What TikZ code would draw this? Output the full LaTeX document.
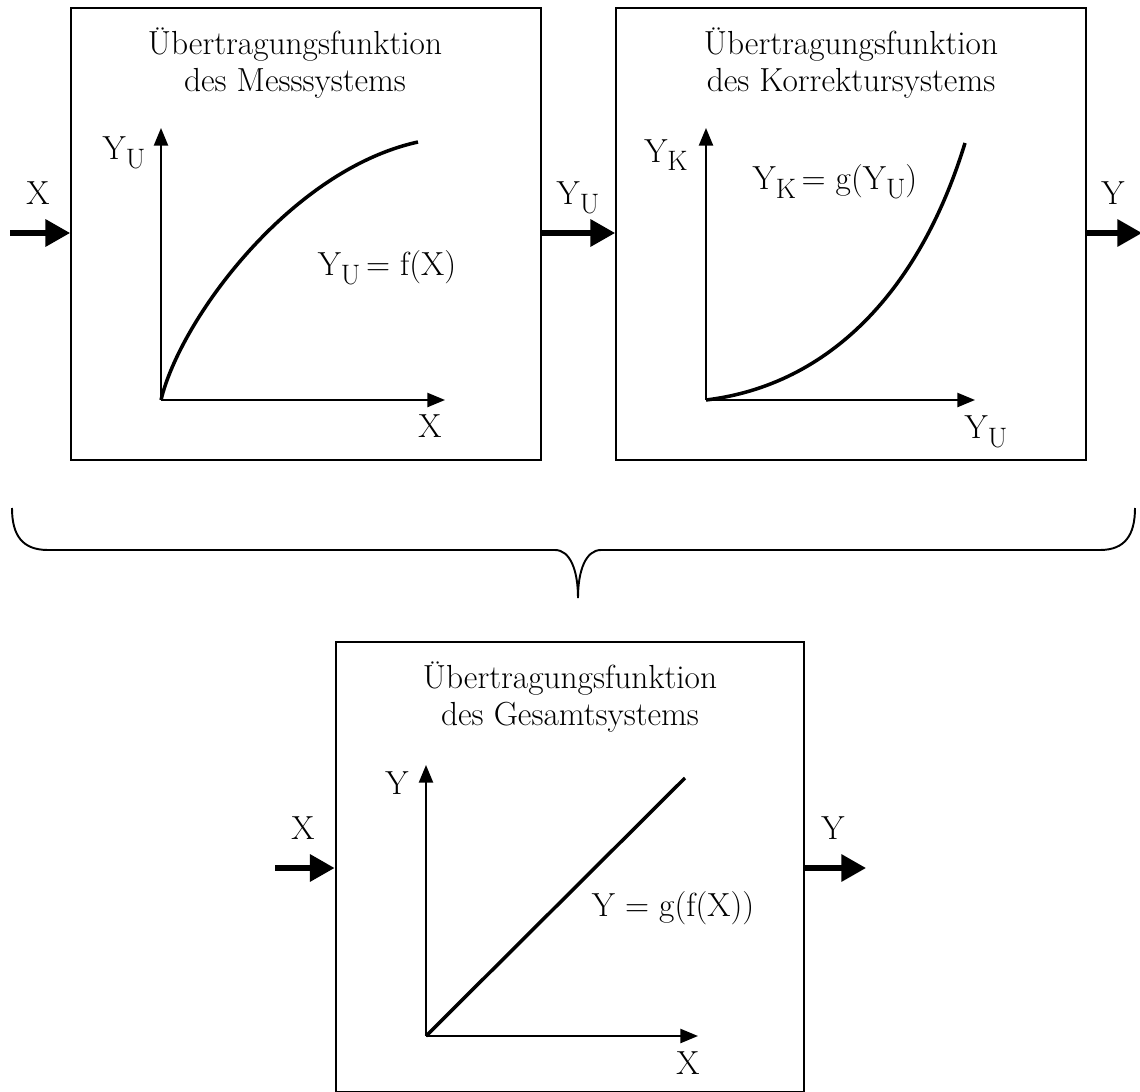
\documentclass[tikz,border=0pt]{standalone}
\usetikzlibrary{arrows.meta,positioning}
\newcommand{\idx}[1]{\raisebox{-0.6ex}{\fontsize{16}{16}\selectfont#1}}
\tikzset{
  sysbox/.style={draw, line width=1.1pt, inner sep=0pt,
                 minimum width=9.4cm, minimum height=9.04cm},
  sigarrow/.style={-{Triangle[length=14pt,width=15pt]}, line width=2.9pt},
  axis/.style={-{Triangle[length=10pt,width=8pt]}, line width=1.1pt},
  kennlinie/.style={line width=2pt},
  titel/.style={align=center, inner sep=0pt, font=\fontsize{19}{21.5}\selectfont},
  lbl/.style={inner sep=0pt, font=\fontsize{19}{22}\selectfont},
  klammer/.style={line width=1.1pt},
}

\begin{document}
\begin{tikzpicture}[x=0.02cm, y=-0.02cm]
  \useasboundingbox (0,0) rectangle (1140,1092);
  % Messsystem
  \node[sysbox] (mess) at (306,234) {};
  \node[titel] (tmess) at (295,63) {Übertragungsfunktion\\des Messsystems};
  \coordinate (o1) at (161,400);
  \coordinate (y1) at (161,128);
  \coordinate (x1) at (445,400);
  \coordinate (f1) at (418,142);
  \draw[axis] (o1) -- (y1);
  \draw[axis] (o1) -- (x1);
  \draw[kennlinie] (o1) .. controls (180,320) and (290,170) .. (f1);
  \node[lbl] (ly1) at (124,153) {Y\idx{U}};
  \node[lbl] (lx1) at (430,426) {X};
  \node[lbl] (lf1) at (387,268) {Y\idx{U}\,= f(X)};
  % Korrektursystem
  \node[sysbox] (korr) at (851,234) {};
  \node[titel] (tkorr) at (851,63) {Übertragungsfunktion\\des Korrektursystems};
  \coordinate (o2) at (706,400);
  \coordinate (y2) at (706,128);
  \coordinate (x2) at (975,400);
  \coordinate (f2) at (965,143);
  \draw[axis] (o2) -- (y2);
  \draw[axis] (o2) -- (x2);
  \draw[kennlinie] (o2) .. controls (830,385) and (920,290) .. (f2);
  \node[lbl] (ly2) at (666,155) {Y\idx{K}};
  \node[lbl] (lx2) at (986,432) {Y\idx{U}};
  \node[lbl] (lf2) at (835,182) {Y\idx{K}\,= g(Y\idx{U})};
  % Signale oben
  \coordinate (in1) at (10,233);
  \coordinate (out2) at (1142,233);
  \draw[sigarrow] (in1) -- (mess.west |- in1);
  \draw[sigarrow] (mess.east |- in1) -- (korr.west |- in1);
  \draw[sigarrow] (korr.east |- in1) -- (out2);
  \node[lbl] (sx1) at (38,193) {X};
  \node[lbl] (syu) at (578,198) {Y\idx{U}};
  \node[lbl] (sy2) at (1113,193) {Y};
  % geschweifte Klammer
  \coordinate (kl) at (12,508);
  \coordinate (kr) at (1135,508);
  \coordinate (kt) at (578,598);
  \draw[klammer] (kl) .. controls (12,535) and (22,550) .. (48,550)
    -- (555,550) .. controls (570,550) and (578,570) .. (kt)
    .. controls (578,570) and (586,550) .. (601,550)
    -- (1100,550) .. controls (1125,550) and (1135,535) .. (kr);
  % Gesamtsystem
  \node[sysbox, minimum width=9.38cm, minimum height=9.0cm] (ges) at (570,867) {};
  \node[titel] (tges) at (570,697) {Übertragungsfunktion\\des Gesamtsystems};
  \coordinate (o3) at (426,1036);
  \coordinate (y3) at (426,765);
  \coordinate (x3) at (698,1036);
  \coordinate (f3) at (685,778);
  \draw[axis] (o3) -- (y3);
  \draw[axis] (o3) -- (x3);
  \draw[kennlinie] (o3) -- (f3);
  \node[lbl] (ly3) at (397,783) {Y};
  \node[lbl] (lx3) at (688,1063) {X};
  \node[lbl] (lf3) at (673,908) {Y = g(f(X))};
  \coordinate (in3) at (275,868);
  \coordinate (out3) at (866,868);
  \draw[sigarrow] (in3) -- (ges.west |- in3);
  \draw[sigarrow] (ges.east |- in3) -- (out3);
  \node[lbl] (sx3) at (303,828) {X};
  \node[lbl] (sy3) at (833,828) {Y};
\end{tikzpicture}
\end{document}
